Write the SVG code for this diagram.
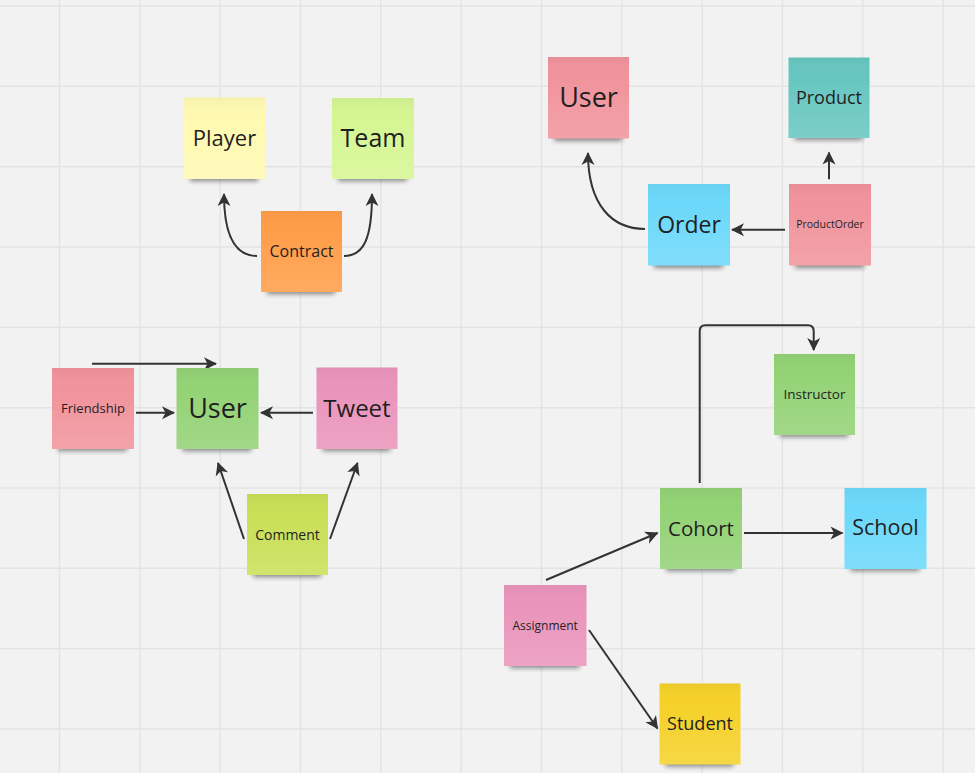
<svg xmlns="http://www.w3.org/2000/svg" width="975" height="773" viewBox="0 0 975 773">
<style>
.grid{stroke:#e3e3e3;stroke-width:1.4;fill:none}
.shadow{fill:#000;opacity:.45;filter:url(#blur)}
.shade{fill:url(#shade)}
.t{font-family:"Open Sans","Noto Sans","DejaVu Sans",sans-serif;fill:#1f1f1f;text-anchor:middle}
.c{fill:none;stroke:#333;stroke-width:2;marker-end:url(#arr)}
</style>
<defs>
<filter id="blur" x="-20%" y="-50%" width="140%" height="200%"><feGaussianBlur stdDeviation="2.6"/></filter>
<linearGradient id="shade" x1="0" y1="0" x2="0" y2="1">
<stop offset="0" stop-color="#000" stop-opacity="0.04"/>
<stop offset="0.25" stop-color="#fff" stop-opacity="0"/>
<stop offset="1" stop-color="#fff" stop-opacity="0.14"/>
</linearGradient>
<marker id="arr" markerUnits="userSpaceOnUse" markerWidth="16" markerHeight="16" viewBox="-14 -8 16 16" refX="0" refY="0" orient="auto">
<path d="M1,0 L-12,-6.5 L-8.5,0 L-12,6.5 Z" fill="#333"/>
</marker>
</defs>
<rect width="975" height="773" fill="#f2f2f2"/>
<path class="grid" d="M59.5,0V773M139.8,0V773M220.2,0V773M300.5,0V773M380.8,0V773M461.2,0V773M541.5,0V773M621.8,0V773M702.2,0V773M782.5,0V773M862.8,0V773M943.2,0V773M0,6H975M0,86.3H975M0,166.7H975M0,247H975M0,327.3H975M0,407.7H975M0,488H975M0,568.3H975M0,648.7H975M0,729H975"/>

<g id="connectors">
<path class="c" d="M257,256 C236,256 224,238 224,194"/>
<path class="c" d="M344,256 C364,256 372,238 372,194"/>
<path class="c" d="M92,363.7 H216"/>
<path class="c" d="M136,412.7 H174"/>
<path class="c" d="M313,412.7 H261"/>
<path class="c" d="M244,539 L218,463"/>
<path class="c" d="M330,539 L357.5,463"/>
<path class="c" d="M645,229 C612,229 588,205 588,153"/>
<path class="c" d="M785,229.7 H732"/>
<path class="c" d="M829,179.3 V152.5"/>
<path class="c" d="M699.7,483 V331 Q699.7,325.3 705.4,325.3 H808 Q813.7,325.3 813.7,331 V350"/>
<path class="c" d="M546,580 L657.5,533"/>
<path class="c" d="M744,533 H842.5"/>
<path class="c" d="M589,630 L657.5,728.5"/>
</g>

<g id="player"><rect class="shadow" x="190" y="167" width="68" height="14"/><rect x="184" y="97.5" width="81" height="81.5" fill="#fff9b1"/><rect class="shade" x="184" y="97.5" width="81" height="81.5"/><text class="t" x="224.5" y="146.2" font-size="22">Player</text></g>
<g id="team"><rect class="shadow" x="338" y="167" width="69" height="14"/><rect x="332" y="98" width="82" height="81" fill="#d5f692"/><rect class="shade" x="332" y="98" width="82" height="81"/><text class="t" x="373" y="147.4" font-size="25">Team</text></g>
<g id="contract"><rect class="shadow" x="267" y="280" width="68" height="14"/><rect x="261" y="211" width="81" height="81" fill="#ff9d48"/><rect class="shade" x="261" y="211" width="81" height="81"/><text class="t" x="301.5" y="257.2" font-size="16">Contract</text></g>

<g id="friendship"><rect class="shadow" x="58" y="437" width="69" height="14"/><rect x="52" y="368" width="82" height="81" fill="#f1939c"/><rect class="shade" x="52" y="368" width="82" height="81"/><text class="t" x="93" y="413.1" font-size="13">Friendship</text></g>
<g id="user-green"><rect class="shadow" x="182.5" y="437" width="69" height="14"/><rect x="176.5" y="368" width="82" height="81" fill="#93d275"/><rect class="shade" x="176.5" y="368" width="82" height="81"/><text class="t" x="217.5" y="418.1" font-size="27">User</text></g>
<g id="tweet"><rect class="shadow" x="322.5" y="437" width="68" height="14"/><rect x="316.5" y="367.5" width="81" height="81.5" fill="#ea94bb"/><rect class="shade" x="316.5" y="367.5" width="81" height="81.5"/><text class="t" x="357" y="416.6" font-size="24">Tweet</text></g>
<g id="comment"><rect class="shadow" x="253" y="563" width="68" height="14"/><rect x="247" y="494" width="81" height="81" fill="#c9df56"/><rect class="shade" x="247" y="494" width="81" height="81"/><text class="t" x="287.5" y="539.5" font-size="14">Comment</text></g>

<g id="user-pink"><rect class="shadow" x="554" y="127" width="68" height="14"/><rect x="548" y="57" width="81" height="81.5" fill="#f1939c"/><rect class="shade" x="548" y="57" width="81" height="81.5"/><text class="t" x="588.5" y="107.4" font-size="27">User</text></g>
<g id="product"><rect class="shadow" x="794.5" y="126" width="68" height="14"/><rect x="788.5" y="57.5" width="81" height="80.5" fill="#67c6c0"/><rect class="shade" x="788.5" y="57.5" width="81" height="80.5"/><text class="t" x="829" y="104.2" font-size="18">Product</text></g>
<g id="order"><rect class="shadow" x="654" y="254" width="69" height="14"/><rect x="648" y="184" width="82" height="81.5" fill="#6cd8fa"/><rect class="shade" x="648" y="184" width="82" height="81.5"/><text class="t" x="689" y="233" font-size="23">Order</text></g>
<g id="productorder"><rect class="shadow" x="795" y="254" width="69" height="14"/><rect x="789" y="184" width="82" height="81.5" fill="#f1939c"/><rect class="shade" x="789" y="184" width="82" height="81.5"/><text class="t" x="830" y="228.3" font-size="10.5">ProductOrder</text></g>

<g id="instructor"><rect class="shadow" x="780" y="423" width="68" height="14"/><rect x="774" y="354" width="81" height="81" fill="#93d275"/><rect class="shade" x="774" y="354" width="81" height="81"/><text class="t" x="814.5" y="399.3" font-size="13.5">Instructor</text></g>
<g id="cohort"><rect class="shadow" x="666" y="557" width="69" height="14"/><rect x="660" y="488" width="82" height="81" fill="#93d275"/><rect class="shade" x="660" y="488" width="82" height="81"/><text class="t" x="701" y="535.5" font-size="20.5">Cohort</text></g>
<g id="school"><rect class="shadow" x="850.5" y="557" width="69" height="14"/><rect x="844.5" y="488" width="82" height="81" fill="#6cd8fa"/><rect class="shade" x="844.5" y="488" width="82" height="81"/><text class="t" x="885.5" y="535.2" font-size="21.5">School</text></g>
<g id="assignment"><rect class="shadow" x="510" y="654" width="69.5" height="14"/><rect x="504" y="585" width="82.5" height="81" fill="#ea94bb"/><rect class="shade" x="504" y="585" width="82.5" height="81"/><text class="t" x="545.2" y="629.5" font-size="12">Assignment</text></g>
<g id="student"><rect class="shadow" x="665.5" y="752.5" width="68" height="14"/><rect x="659.5" y="683.5" width="81" height="81" fill="#f5d128"/><rect class="shade" x="659.5" y="683.5" width="81" height="81"/><text class="t" x="700" y="730" font-size="18">Student</text></g>
</svg>
